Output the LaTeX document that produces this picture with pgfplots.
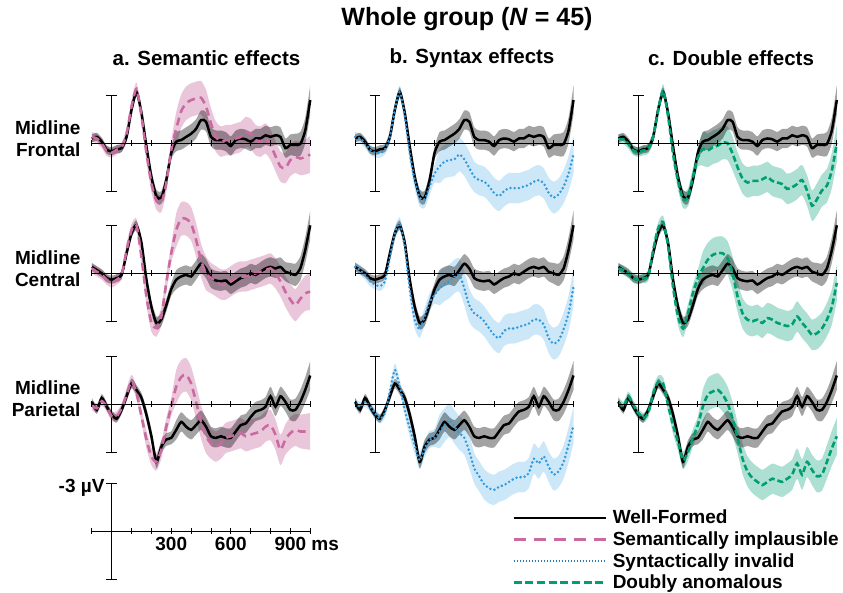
\documentclass[border=0pt]{standalone}
\usepackage{pgfplots}
\pgfplotsset{compat=1.18}
\usepackage{pgfplotstable}
\usepgfplotslibrary{fillbetween}
\usepackage{fontspec}
\setmainfont{Liberation Sans}

\definecolor{semc}{HTML}{C96AA0}
\definecolor{sync}{HTML}{3399DD}
\definecolor{synband}{HTML}{56B4E9}
\definecolor{dblc}{HTML}{009E73}

\newcommand{\lab}{\fontsize{19}{22}\selectfont\bfseries}

% t = ms, values in microvolts (negative plotted up)
\pgfplotstableread{
t wf ws sem syn dbl cs
-100 -0.3 0.25 -0.4 -0.4 -0.25 0.3
-75 -0.4 0.25 -0.3 -0.3 -0.25 0.3
-50 -0.1 0.25 0.0 0.0 0.05 0.3
-25 0.4 0.25 0.5 0.4 0.45 0.3
0 0.5 0.25 0.6 0.6 0.55 0.3
25 0.37 0.25 0.4 0.6 0.45 0.3
50 0.3 0.25 0.25 0.4 0.35 0.3
75 -0.4 0.3 -0.6 -0.4 -0.4 0.4
100 -2.1 0.3 -2.3 -2.1 -2.05 0.4
125 -3.2 0.3 -3.4 -3.2 -3.3 0.4
150 -1.9 0.3 -1.7 -1.7 -1.7 0.4
175 0.2 0.4 0.6 0.6 0.65 0.55
200 2.1 0.4 2.5 2.3 2.35 0.55
225 3.3 0.4 3.6 3.4 3.5 0.55
250 3.4 0.4 3.75 3.5 3.4 0.55
275 2.3 0.4 2.5 2.7 2.1 0.55
300 0.6 0.4 0.4 1.9 0.9 0.55
325 -0.1 0.6 -0.9 1.45 0.35 1.05
350 -0.2 0.6 -2.0 1.15 0.45 1.05
375 -0.4 0.6 -2.5 1.05 0.25 1.05
400 -0.6 0.6 -2.7 1.0 0.15 1.05
425 -0.9 0.6 -2.8 0.7 -0.05 1.05
450 -1.45 0.6 -2.85 1.0 0.0 1.05
475 -1.35 0.6 -2.3 1.55 0.65 1.05
500 -0.4 0.6 -1.25 2.1 1.5 0.95
525 -0.2 0.6 -0.4 2.3 2.2 0.95
550 -0.2 0.6 -0.1 2.4 2.45 0.95
575 -0.1 0.6 -0.2 2.7 2.35 0.95
600 0.17 0.6 -0.2 3.1 2.35 0.95
625 -0.2 0.6 -0.3 3.3 2.25 0.95
650 -0.3 0.6 -0.4 3.0 2.1 0.95
675 -0.25 0.6 -0.7 2.8 2.35 0.95
700 -0.1 0.6 -0.6 2.8 2.45 0.95
725 -0.3 0.6 -0.2 2.8 2.55 0.95
750 -0.3 0.6 -0.1 2.7 2.85 0.95
775 -0.5 0.6 -0.3 2.6 2.75 0.95
800 -0.4 0.6 0.1 2.4 2.55 0.95
825 -0.5 0.6 0.8 2.3 2.3 0.95
850 -0.4 0.6 1.45 2.5 2.95 0.95
875 0.3 0.6 1.55 3.1 3.9 0.95
900 0.1 0.65 1.05 3.4 3.5 1.0
925 0.1 0.7 0.85 3.2 2.95 1.0
950 0.05 0.75 0.95 2.7 2.65 1.05
975 -0.8 0.8 0.85 1.9 1.7 1.1
1000 -2.7 0.9 0.7 0.7 0.0 1.15
}\frontal

\pgfplotstableread{
t wf ws sem syn dbl cs
-100 -0.4 0.25 -0.3 -0.4 -0.3 0.3
-75 -0.2 0.25 -0.1 -0.2 -0.2 0.3
-50 0.0 0.25 0.1 0.1 0.0 0.3
-25 0.3 0.25 0.4 0.5 0.3 0.3
0 0.4 0.25 0.6 0.7 0.4 0.3
25 0.3 0.25 0.4 0.8 0.3 0.3
50 0.1 0.25 0.1 0.5 0.2 0.3
75 -1.25 0.3 -1.45 -1.0 -1.45 0.4
100 -2.5 0.3 -2.7 -2.5 -2.8 0.4
125 -3.0 0.3 -3.0 -3.1 -3.2 0.4
150 -1.9 0.3 -1.0 -1.7 -1.7 0.4
175 0.4 0.4 1.45 1.0 0.85 0.55
200 2.1 0.4 3.1 2.9 2.7 0.55
225 3.1 0.4 3.4 3.5 3.45 0.55
250 2.9 0.4 2.7 2.7 2.5 0.55
275 2.0 0.4 0.6 1.8 1.25 0.55
300 1.0 0.4 -1.25 1.35 0.3 0.55
325 0.4 0.6 -2.7 0.95 -0.3 1.05
350 0.2 0.6 -3.4 0.7 -0.85 1.05
375 0.1 0.6 -3.4 0.5 -1.15 1.05
400 0.2 0.6 -3.1 0.2 -1.25 1.05
425 -0.2 0.6 -2.1 0.1 -1.25 1.05
450 -0.6 0.6 -0.8 0.95 -0.95 1.05
475 -0.3 0.6 0.0 2.0 0.0 1.05
500 0.3 0.6 0.3 2.5 1.45 0.95
525 0.45 0.6 0.5 2.7 2.5 0.95
550 0.5 0.6 0.7 3.0 2.9 0.95
575 0.45 0.6 0.7 3.45 3.0 0.95
600 0.7 0.6 0.5 3.85 2.9 0.95
625 0.5 0.6 0.3 4.05 3.1 0.95
650 0.3 0.6 0.2 3.6 2.8 0.95
675 0.2 0.6 0.2 3.45 2.9 0.95
700 0.0 0.6 0.1 3.45 3.1 0.95
725 0.1 0.6 0.0 3.35 3.2 0.95
750 -0.1 0.6 -0.1 3.25 3.3 0.95
775 -0.3 0.6 -0.2 3.15 3.2 0.95
800 -0.4 0.6 -0.3 2.9 2.7 0.95
825 -0.3 0.6 0.0 2.9 3.1 0.95
850 -0.4 0.6 0.5 3.2 3.45 0.95
875 -0.1 0.6 1.15 4.05 3.85 0.95
900 0.0 0.65 1.65 4.4 3.75 1.0
925 0.1 0.7 2.0 4.2 3.45 1.0
950 -0.3 0.75 1.6 3.5 2.9 1.05
975 -1.45 0.8 1.25 2.5 2.1 1.1
1000 -3.0 0.9 1.15 0.85 0.6 1.15
}\central

\pgfplotstableread{
t wf ws sem syn dbl cs
-100 -0.15 0.25 0.05 -0.05 -0.15 0.3
-75 0.35 0.25 0.25 0.15 0.15 0.3
-50 -0.4 0.25 -0.2 -0.15 -0.5 0.3
-25 0.15 0.25 0.15 0.15 0.05 0.3
0 0.65 0.25 0.75 0.55 0.55 0.3
25 0.9 0.25 0.75 0.9 0.85 0.3
50 0.35 0.25 0.25 0.55 0.55 0.3
75 -0.5 0.3 -0.6 -0.8 -0.7 0.4
100 -1.3 0.3 -1.45 -2.15 -1.4 0.4
125 -0.9 0.3 -0.7 -1.1 -1.3 0.4
150 -0.4 0.3 0.75 0.35 0.05 0.4
175 0.65 0.4 2.2 1.5 1.3 0.55
200 2.0 0.4 3.25 2.55 2.35 0.55
225 3.6 0.4 3.6 3.5 3.5 0.55
250 2.65 0.4 2.85 2.75 3.0 0.55
275 2.2 0.4 1.4 2.2 2.1 0.55
300 2.1 0.4 0.15 2.1 1.3 0.55
325 1.6 0.6 -1.1 1.7 0.15 1.05
350 1.1 0.6 -1.7 1.3 -0.6 1.05
375 1.4 0.6 -1.85 1.0 -0.8 1.05
400 1.6 0.6 -1.3 1.4 -0.9 1.05
425 1.3 0.6 -0.15 1.8 -0.6 1.05
450 1.0 0.6 1.1 2.1 -0.05 1.05
475 1.4 0.6 2.0 2.95 0.9 1.05
500 2.0 0.6 2.45 4.0 2.1 0.95
525 2.1 0.6 2.65 4.5 3.4 0.95
550 2.0 0.6 2.45 5.0 4.2 0.95
575 2.1 0.6 2.1 5.25 4.6 0.95
600 2.1 0.6 2.0 5.35 4.85 0.95
625 1.7 0.6 1.9 5.15 5.05 0.95
650 1.3 0.6 1.8 5.05 4.85 0.95
675 1.2 0.6 2.0 4.85 4.65 0.95
700 0.8 0.6 1.9 4.65 4.75 0.95
725 0.45 0.6 1.8 4.55 4.85 0.95
750 0.35 0.6 1.7 4.55 4.65 0.95
775 0.15 0.6 1.4 4.3 4.4 0.95
800 -0.5 0.6 1.3 3.4 3.7 0.95
825 0.15 0.6 1.9 3.7 4.4 0.95
850 -0.5 0.6 2.85 3.25 3.6 0.95
875 -0.15 0.6 2.2 3.9 4.1 0.95
900 0.35 0.65 1.8 4.4 4.5 1.0
925 0.35 0.7 1.6 4.2 4.4 1.0
950 -0.15 0.75 1.7 3.6 3.6 1.05
975 -0.9 0.8 1.7 2.55 2.75 1.1
1000 -1.8 0.9 1.7 1.3 2.0 1.15
}\parietal

\pgfplotsset{
  panel/.style={
    anchor=origin, x=0.1985pt, y=16pt, y dir=reverse,
    xmin=-100, xmax=1000, ymin=-5, ymax=6,
    axis x line=middle, axis y line=none,
    axis line style={-, line width=0.8pt},
    xtick={-100,100,200,...,1000}, xticklabels={}, ytick=\empty,
    tick align=center, major tick length=6pt,
    tick style={black, line width=0.8pt},
    clip=false, axis on top,
  },
  sbar/.style={black, line width=0.8pt},
  wfline/.style={black, line width=2.5pt, smooth, tension=0.4},
  semline/.style={semc, line width=2.6pt, dash pattern=on 8pt off 5pt, smooth, tension=0.4},
  synline/.style={sync, line width=2.8pt, line cap=round, dash pattern=on 0pt off 4.2pt, smooth, tension=0.4},
  dblline/.style={dblc, line width=2.6pt, dash pattern=on 6pt off 3pt, smooth, tension=0.4},
}

\newcommand{\scalebar}{%
  \addplot[sbar, forget plot] coordinates {(0,-3) (0,3)};
  \addplot[sbar, forget plot] coordinates {(-27,-3) (27,-3)};
  \addplot[sbar, forget plot] coordinates {(-27,3) (27,3)};}

% #1 x, #2 y, #3 table, #4 column, #5 band colour, #6 band opacity, #7 line style
\newcommand{\panel}[7]{%
  \begin{axis}[panel, at={(#1,#2)}]
    \scalebar
    \addplot[draw=none, smooth, tension=0.4, name path=cu] table[x=t, y expr=\thisrow{#4}+\thisrow{cs}] {#3};
    \addplot[draw=none, smooth, tension=0.4, name path=cl] table[x=t, y expr=\thisrow{#4}-\thisrow{cs}] {#3};
    \addplot[fill=#5, fill opacity=#6, draw=none] fill between[of=cu and cl];
    \addplot[draw=none, smooth, tension=0.4, name path=wu] table[x=t, y expr=\thisrow{wf}+\thisrow{ws}] {#3};
    \addplot[draw=none, smooth, tension=0.4, name path=wl] table[x=t, y expr=\thisrow{wf}-\thisrow{ws}] {#3};
    \addplot[fill=black, fill opacity=0.36, draw=none] fill between[of=wu and wl];
    \addplot[wfline] table[x=t, y=wf] {#3};
    \addplot[#7] table[x=t, y=#4] {#3};
  \end{axis}}

\begin{document}
\begin{tikzpicture}

\panel{111.7pt}{449.7pt}{\frontal}{sem}{semc}{0.38}{semline}
\panel{375pt}{449.7pt}{\frontal}{syn}{synband}{0.3}{synline}
\panel{638.3pt}{449.7pt}{\frontal}{dbl}{dblc}{0.32}{dblline}
\panel{111.7pt}{319.7pt}{\central}{sem}{semc}{0.38}{semline}
\panel{375pt}{319.7pt}{\central}{syn}{synband}{0.3}{synline}
\panel{638.3pt}{319.7pt}{\central}{dbl}{dblc}{0.32}{dblline}
\panel{111.7pt}{188.7pt}{\parietal}{sem}{semc}{0.38}{semline}
\panel{375pt}{188.7pt}{\parietal}{syn}{synband}{0.3}{synline}
\panel{638.3pt}{188.7pt}{\parietal}{dbl}{dblc}{0.32}{dblline}

% scale axis with legend
\begin{axis}[panel, y dir=normal, ymin=-3, ymax=3, at={(111.7pt,62pt)},
  xticklabels={{},{},{},300,{},{},600,{},{},900\rlap{\ ms},{}},
  xticklabel style={font=\lab},
  legend style={at={(1.925,0.74)}, anchor=north west, draw=none, fill=none,
    font=\lab, row sep=2.3pt, inner sep=0pt, nodes={inner sep=2pt},
    /tikz/every odd column/.append style={column sep=4pt}},
  legend cell align=left,
  legend image code/.code={\draw[#1] (0pt,0pt) -- (92pt,0pt);},
]
  \scalebar
  \addlegendimage{black, line width=2.2pt}
  \addlegendentry{Well-Formed}
  \addlegendimage{semc, line width=2.4pt, dash pattern=on 12pt off 8pt}
  \addlegendentry{Semantically implausible}
  \addlegendimage{sync!80!black, line width=2.2pt, dash pattern=on 1.5pt off 1.5pt}
  \addlegendentry{Syntactically invalid}
  \addlegendimage{dblc, line width=2.4pt, dash pattern=on 8pt off 3.7pt}
  \addlegendentry{Doubly anomalous}
\end{axis}

\node[anchor=east, font=\lab] at (108pt,105pt) {-3 µV};

\node[font=\fontsize{25}{28}\selectfont\bfseries] at (467pt,574pt) {Whole group (\textit{N} = 45)};
\node[font=\fontsize{20.5}{24}\selectfont\bfseries] at (206.5pt,535pt) {a. Semantic effects};
\node[font=\fontsize{20.5}{24}\selectfont\bfseries] at (472pt,535pt) {b. Syntax effects};
\node[font=\fontsize{20.5}{24}\selectfont\bfseries] at (731pt,535pt) {c. Double effects};

\node[anchor=east, align=right, font=\lab] at (84pt,454pt) {Midline\\Frontal};
\node[anchor=east, align=right, font=\lab] at (84pt,324pt) {Midline\\Central};
\node[anchor=east, align=right, font=\lab] at (84pt,194pt) {Midline\\Parietal};

\pgfresetboundingbox
\useasboundingbox (0,0) rectangle (843pt,593pt);
\end{tikzpicture}
\end{document}
